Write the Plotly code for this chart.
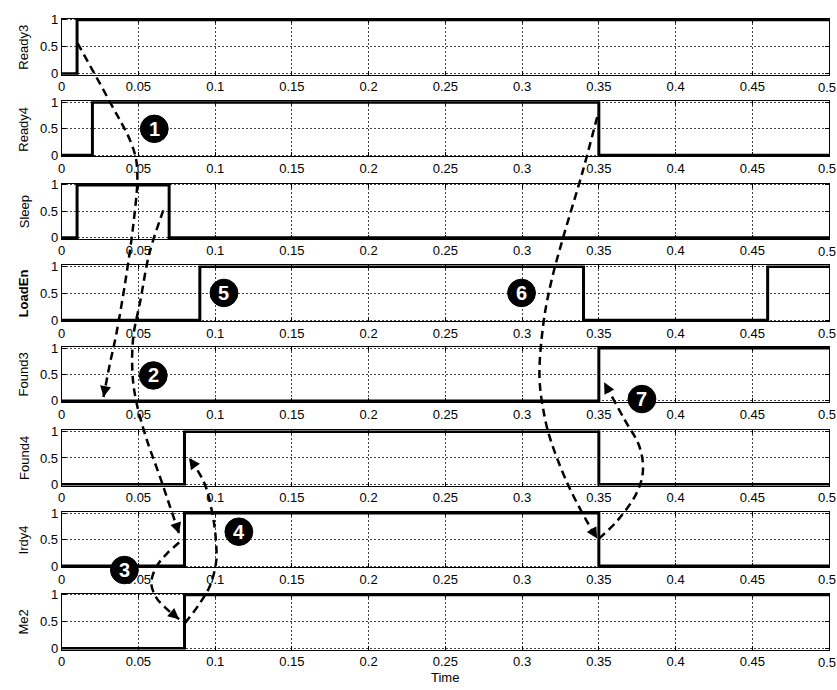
import plotly.graph_objects as go

W, H = 837, 690

# ---------------- data ----------------
signal_names = ["Ready3", "Ready4", "Sleep", "LoadEn", "Found3", "Found4", "Irdy4", "Me2"]

ready3_t = [0, 0.01, 0.5]
ready3_v = [0, 1, 1]
ready4_t = [0, 0.02, 0.35, 0.5]
ready4_v = [0, 1, 0, 0]
sleep_t = [0, 0.01, 0.07, 0.5]
sleep_v = [0, 1, 0, 0]
loaden_t = [0, 0.09, 0.34, 0.46, 0.5]
loaden_v = [0, 1, 0, 1, 1]
found3_t = [0, 0.35, 0.5]
found3_v = [0, 1, 1]
found4_t = [0, 0.08, 0.35, 0.5]
found4_v = [0, 1, 0, 0]
irdy4_t = [0, 0.08, 0.35, 0.5]
irdy4_v = [0, 1, 0, 0]
me2_t = [0, 0.08, 0.5]
me2_v = [0, 1, 1]

signal_times = [ready3_t, ready4_t, sleep_t, loaden_t, found3_t, found4_t, irdy4_t, me2_t]
signal_values = [ready3_v, ready4_v, sleep_v, loaden_v, found3_v, found4_v, irdy4_v, me2_v]

x_ticks = [0, 0.05, 0.1, 0.15, 0.2, 0.25, 0.3, 0.35, 0.4, 0.45, 0.5]
x_tick_labels = ["0", "0.05", "0.1", "0.15", "0.2", "0.25", "0.3", "0.35", "0.4", "0.45", "0.5"]
y_ticks = [0, 0.5, 1]
y_tick_labels = ["0", "0.5", "1"]
x_label = "Time"

circle_labels = ["1", "2", "3", "4", "5", "6", "7"]

# ---------------- layout geometry (pixels) ----------------
plot_left, plot_right = 58, 829
panel_tops = [13, 97, 181, 264, 347, 432, 515, 598]
panel_bottoms = [70, 153, 237, 321, 403, 488, 571, 655]

circle_centers = [(151, 125), (150, 376), (121, 574), (236, 535), (221, 292), (520, 292), (641, 400)]
circle_r = 14

# dashed arrow paths (pixel coords), arrowhead flag at end
arrow_paths = [
    ([(74, 38), (105, 95), (128, 140), (134, 172), (130, 222), (122, 280), (113, 333), (106, 366), (100, 398)], True),
    ([(160, 208), (146, 252), (137, 300), (130, 336), (129, 372), (133, 403), (143, 440), (157, 480), (167, 510), (176, 537)], True),
    ([(176, 546), (163, 558), (153, 571), (148, 587), (153, 602), (164, 614), (176, 624)], True),
    ([(182, 628), (196, 609), (207, 590), (213, 567), (213, 545), (210, 520), (203, 490), (193, 470), (186, 460)], True),
    ([(596, 113), (581, 170), (562, 235), (550, 280), (542, 323), (538, 375), (543, 417), (552, 450), (568, 490), (586, 525), (596, 542)], True),
    ([(598, 542), (617, 523), (635, 497), (642, 473), (638, 447), (623, 420), (603, 383)], True),
]


def px(x):
    return x / W


def py(y):
    return 1 - y / H


def smooth_path(pts):
    P = [(px(x), py(y)) for x, y in pts]
    d = "M %.5f,%.5f" % P[0]
    n = len(P)
    for i in range(n - 1):
        p0 = P[i - 1] if i > 0 else P[i]
        p1 = P[i]
        p2 = P[i + 1]
        p3 = P[i + 2] if i + 2 < n else P[i + 1]
        c1 = (p1[0] + (p2[0] - p0[0]) / 6, p1[1] + (p2[1] - p0[1]) / 6)
        c2 = (p2[0] - (p3[0] - p1[0]) / 6, p2[1] - (p3[1] - p1[1]) / 6)
        d += " C %.5f,%.5f %.5f,%.5f %.5f,%.5f" % (c1 + c2 + p2)
    return d


FONT = "Liberation Sans, Arial, Helvetica, sans-serif"
fig = go.Figure()

layout = dict(
    width=W, height=H,
    margin=dict(l=0, r=0, t=0, b=0),
    paper_bgcolor="white", plot_bgcolor="white",
    showlegend=False,
    font=dict(family=FONT, size=13, color="black"),
)

annotations = []
shapes = []

for i, name in enumerate(signal_names):
    k = i + 1
    fig.add_trace(go.Scatter(
        x=signal_times[i], y=signal_values[i], mode="lines",
        line=dict(color="black", width=3, shape="hv"),
        xaxis="x%d" % k, yaxis="y%d" % k, hoverinfo="skip",
    ))
    axcommon = dict(
        showgrid=True, gridcolor="#444", griddash="2px,2px", gridwidth=1,
        showline=True, linecolor="black", linewidth=1, mirror="ticks",
        ticks="inside", ticklen=4, tickcolor="black",
        zeroline=False, tickfont=dict(family=FONT, size=13, color="black"),
    )
    layout["xaxis%d" % k] = dict(
        domain=[px(plot_left), px(plot_right)], range=[0, 0.5],
        anchor="y%d" % k, tickmode="array", tickvals=x_ticks, ticktext=x_tick_labels,
        **axcommon)
    layout["yaxis%d" % k] = dict(
        domain=[py(panel_bottoms[i]), py(panel_tops[i])], range=[-0.02, 1.02],
        anchor="x%d" % k, tickmode="array", tickvals=y_ticks, ticktext=y_tick_labels,
        **axcommon)
    label = "<b>%s</b>" % name if name == "LoadEn" else name
    annotations.append(dict(
        x=px(20), y=py((panel_tops[i] + panel_bottoms[i]) / 2), xref="paper", yref="paper",
        text=label, textangle=-90, showarrow=False,
        font=dict(family=FONT, size=13, color="black"),
        xanchor="center", yanchor="middle",
    ))
    # last tick label sits at the figure's right edge (plotly hides it past the div)
    annotations.append(dict(
        x=1.0, y=py(panel_bottoms[i] + 4), xref="paper", yref="paper",
        text=x_tick_labels[-1], showarrow=False,
        font=dict(family=FONT, size=13, color="black"),
        xanchor="right", yanchor="top", borderpad=0,
    ))

annotations.append(dict(
    x=px(443), y=py(683), xref="paper", yref="paper", text=x_label, showarrow=False,
    font=dict(family=FONT, size=13, color="black"), xanchor="center", yanchor="middle",
))

# dashed arrows
for pts, head in arrow_paths:
    shapes.append(dict(
        type="path", xref="paper", yref="paper", path=smooth_path(pts),
        line=dict(color="black", width=2.5, dash="8px,5px"), layer="above",
    ))
    if head:
        (x1, y1), (x0, y0) = pts[-1], pts[-2]
        dx, dy = x0 - x1, y0 - y1
        L = (dx * dx + dy * dy) ** 0.5
        annotations.append(dict(
            x=px(x1), y=py(y1), xref="paper", yref="paper", text="",
            showarrow=True, ax=dx / L * 9, ay=dy / L * 9,
            arrowhead=2, arrowsize=1.1, arrowwidth=2, arrowcolor="black", standoff=0,
        ))

# numbered circles
for (cx, cy), lab in zip(circle_centers, circle_labels):
    shapes.append(dict(
        type="circle", xref="paper", yref="paper",
        x0=px(cx - circle_r), x1=px(cx + circle_r), y0=py(cy + circle_r), y1=py(cy - circle_r),
        fillcolor="black", line=dict(color="black", width=1), layer="above",
    ))
    annotations.append(dict(
        x=px(cx), y=py(cy), xref="paper", yref="paper", text="<b>%s</b>" % lab,
        showarrow=False, font=dict(family=FONT, size=20, color="white"),
        xanchor="center", yanchor="middle",
    ))

layout["annotations"] = annotations
layout["shapes"] = shapes
fig.update_layout(**layout)
fig.write_html(
    "out.html",
    config={"displayModeBar": False},
    post_script="document.body.style.margin='0';document.body.style.padding='0';"
                "document.body.style.overflow='hidden';"
                "document.documentElement.style.overflow='hidden';",
)
